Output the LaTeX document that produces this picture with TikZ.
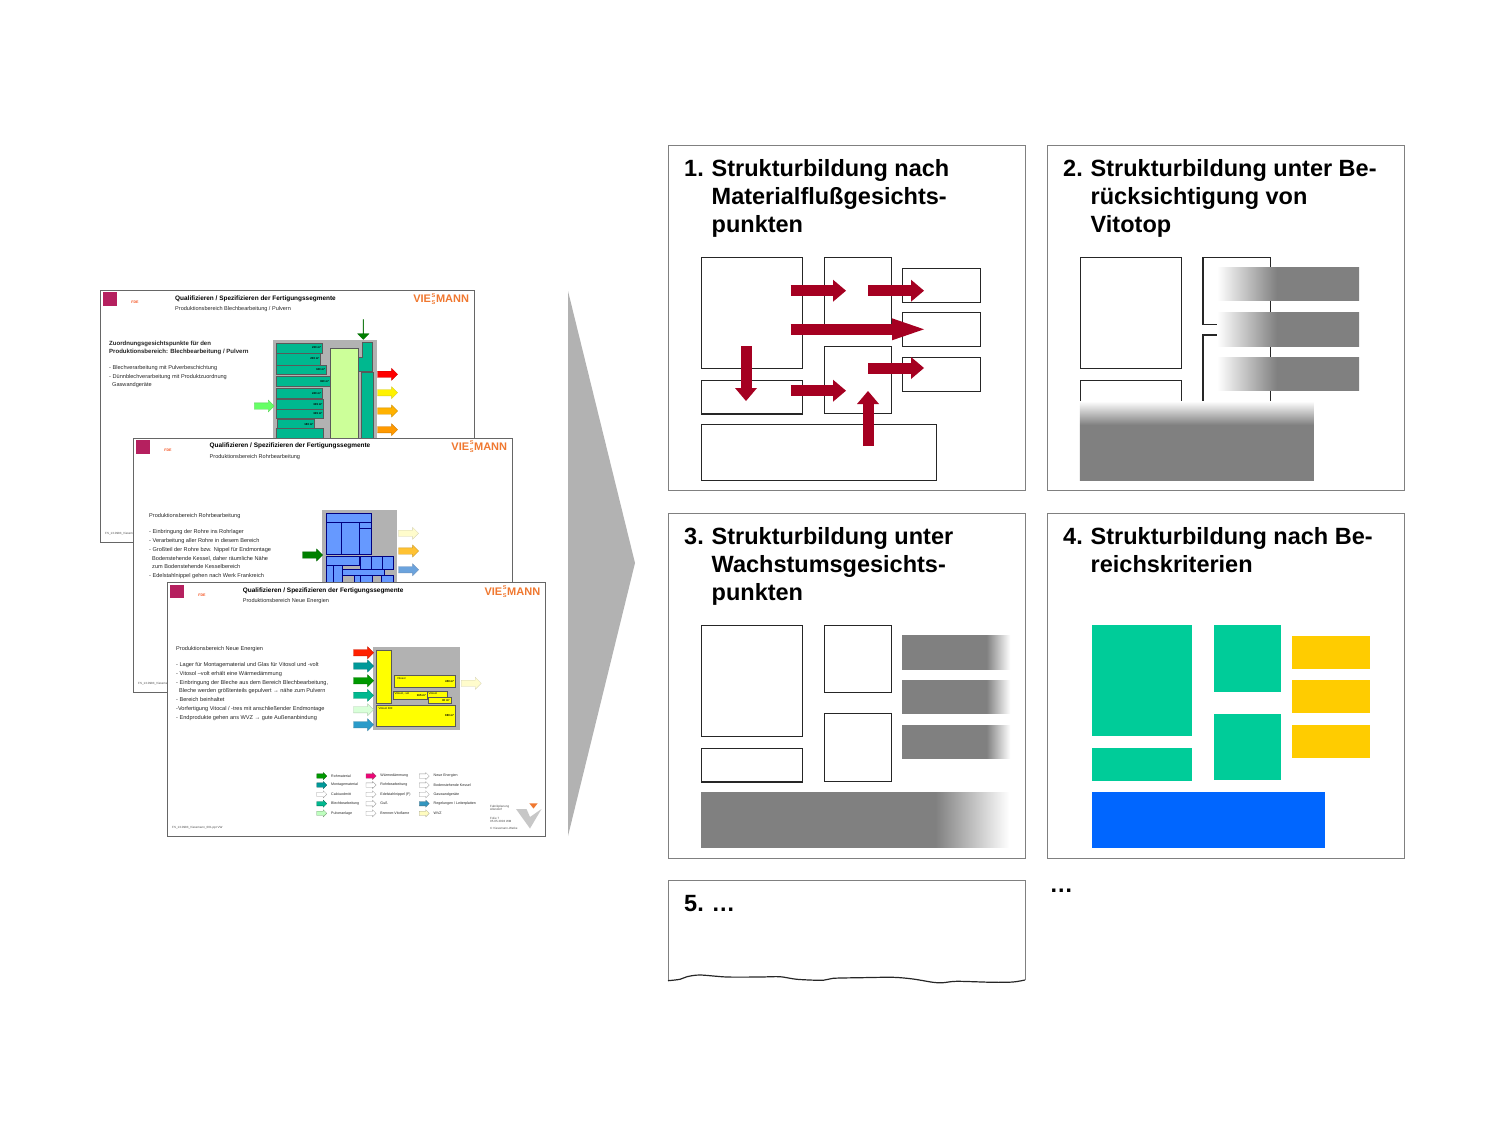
\documentclass[tikz,border=0pt]{standalone}
\usepackage{fontspec}
\setmainfont{Liberation Sans}
\usepackage{xcolor}
\usetikzlibrary{arrows.meta, positioning, shapes.arrows}
\definecolor{framegray}{HTML}{808080}
\definecolor{bargray}{HTML}{808080}
\definecolor{wedgegray}{HTML}{B2B2B2}
\definecolor{flowred}{HTML}{A50021}
\definecolor{zonegreen}{HTML}{00CC99}
\definecolor{zoneyellow}{HTML}{FFCC00}
\definecolor{zoneblue}{HTML}{0066FF}
\definecolor{hallgray}{HTML}{B2B2B2}
\definecolor{seggreen}{HTML}{00B88F}
\definecolor{seglime}{HTML}{CCFF99}
\definecolor{segblue}{HTML}{6699FF}
\definecolor{segyellow}{HTML}{FFFF00}
\definecolor{brandorange}{HTML}{F07830}
\definecolor{brandpink}{HTML}{B5205F}
\pgfdeclarehorizontalshading{fadeleft}{100bp}{color(0bp)=(white); color(25bp)=(white); color(46bp)=(bargray); color(100bp)=(bargray)}
\pgfdeclarehorizontalshading{faderight}{100bp}{color(0bp)=(bargray); color(64bp)=(bargray); color(75bp)=(white); color(100bp)=(white)}
\pgfdeclarehorizontalshading{faderightlong}{100bp}{color(0bp)=(bargray); color(63bp)=(bargray); color(75bp)=(white); color(100bp)=(white)}
\pgfdeclareverticalshading{fadetop}{100bp}{color(0bp)=(bargray); color(60bp)=(bargray); color(75bp)=(white); color(100bp)=(white)}
\tikzset{
  panel/.style={rectangle, draw=framegray, line width=1pt, fill=white, inner sep=0pt, anchor=north west},
  panelno/.style={inner sep=0pt, anchor=north west, font=\fontsize{23.5}{28}\selectfont\bfseries},
  paneltitle/.style={inner sep=0pt, anchor=north west, align=left, font=\fontsize{23.5}{28}\selectfont\bfseries},
  box/.style={rectangle, draw=black!85, line width=1.3pt, inner sep=0pt, anchor=north west},
  flatbox/.style={rectangle, fill=#1, inner sep=0pt, anchor=north west},
  flowarr/.style={-{Triangle[length=#1,width=22pt,line width=0pt]}, line width=11pt, flowred},
  flowarr/.default=13pt,
  slide/.style={rectangle, draw=black!60, line width=.8pt, fill=white, inner sep=0pt, anchor=north west},
  seg/.style={rectangle, draw=black!65, line width=.5pt, fill=#1, inner sep=0pt, anchor=north west},
  segtxt/.style={inner sep=0pt, font=\fontsize{2.8}{3}\selectfont\bfseries},
  flowmark/.style={single arrow, fill=#1, draw=#1!80!black, line width=.3pt, inner sep=0pt, inner ysep=3pt,
                   minimum height=20pt, minimum width=11.5pt, single arrow head extend=2.8pt},
  legmark/.style={single arrow, fill=#1, draw=#1!60!black, line width=.3pt, inner sep=0pt, inner ysep=2pt,
                  minimum height=10pt, minimum width=6.6pt, single arrow head extend=1.3pt},
  slidehd/.style={inner sep=0pt, anchor=west, font=\fontsize{6.45}{7}\selectfont\bfseries},
  slidesub/.style={inner sep=0pt, anchor=west, text=black!85, font=\fontsize{5.55}{7}\selectfont},
  slidetxt/.style={inner sep=0pt, anchor=north west, align=left, text=black!85, font=\fontsize{5.6}{8.75}\selectfont},
  tinytxt/.style={inner sep=0pt, anchor=west, text=black!70, font=\fontsize{3}{4}\selectfont},
  legtxt/.style={inner sep=0pt, anchor=west, text=black!85, font=\fontsize{3.6}{4}\selectfont},
}
\newcommand\viesslogo{VIE\kern.6pt{\fontsize{5.6}{7}\selectfont\raisebox{-1.9pt}{\vbox{\baselineskip=7.6pt\lineskip=0pt\hbox{S}\hbox{S}}}}\kern.6pt MANN}
% name, x, y, width, height, title x, subtitle
\newcommand\slidehead[7]{
  \node[slide, minimum width=#4pt, minimum height=#5pt] (#1) at (#2,#3) {};
  \node[rectangle, fill=brandpink, inner sep=0pt, anchor=north west, minimum width=13.5pt, minimum height=13.5pt] (#1mark) at (#2+3.5,#3+2.2) {};
  \node[inner sep=0pt, anchor=west, text=brandorange!70!red, font=\fontsize{3.6}{4}\selectfont\bfseries] (#1fde) at (#2+31.5,#3+12.6) {FDE};
  \node[slidehd] (#1hd) at (#6,#3+8.5) {Qualifizieren / Spezifizieren der Fertigungssegmente};
  \node[slidesub] (#1sub) at (#6,#3+19) {#7};
  \node[inner sep=0pt, anchor=east, text=brandorange, font=\fontsize{11}{12}\selectfont\bfseries] (#1logo) at (#2+#4-5,#3+9) {\viesslogo};
}
\begin{document}
\begin{tikzpicture}[x=1pt,y=-1pt]
  \useasboundingbox (0,0) rectangle (1500,1125);
  %% slide 1
  \slidehead{sa}{99.7}{290}{374.5}{251.5}{175}{Produktionsbereich Blechbearbeitung / Pulvern}
  \node[slidetxt, font=\fontsize{6.05}{8.2}\selectfont\bfseries] (sahead) at (109,341) {Zuordnungsgesichtspunkte für den\\Produktionsbereich: Blechbearbeitung / Pulvern};
  \node[slidetxt] (salist) at (109,365) {- Blechverarbeitung mit Pulverbeschichtung\\- Dünnblechverarbeitung mit Produktzuordnung\\\hspace*{3pt}Gaswandgeräte};
  \node[tinytxt] (safoot) at (105,533.5) {FS\_13.0983\_Viessmann};
  \node[rectangle, fill=hallgray, inner sep=0pt, anchor=north west, minimum width=104pt, minimum height=101pt] (sahall) at (272.7,339.3) {};
  \foreach \n/\x/\y/\w/\h/\t in {a1/276.3/342.7/45.4/10/230 m²,a2/276.3/352.7/43.7/12/200 m²,a3/276.3/364.7/49.4/9.6/340 m²,
      a4/276.3/376.3/53.4/9.7/360 m²,a5/276.3/387.7/45.4/10.3/240 m²,a6/276.3/399/46.7/9.7/345 m²,a7/276.3/408.7/46.7/9.3/345 m²,
      a8/277.3/419.3/36.7/9/180 m²,a9/276.3/428.3/46.7/11/ }
    {\node[seg=seggreen, minimum width=\w pt, minimum height=\h pt] (\n) at (\x,\y) {};
     \node[segtxt, left=1pt of \n.east] (\n t) {\t};}
  \node[seg=seglime, minimum width=27.7pt, minimum height=91pt] (a10) at (330,348.3) {};
  \draw[line width=.5pt, draw=black!65, fill=seggreen] (362.7,342.7) -- (372.7,342.7) -- (372.7,371.7) -- (358.3,371.7) -- (358.3,357.3) -- (362.7,357.3) -- cycle;
  \node[seg=seggreen, minimum width=12pt, minimum height=68pt] (a12) at (360.7,372.3) {};
  \node[flowmark=black!50!green, shape border rotate=270] (adown) at (363.3,329.3) {};
  \node[flowmark=green!60!white] (ain) at (262.7,406) {};
  \foreach \n/\y/\c in {ared/374.3/red,ayel/392.7/yellow,agold/411/orange!60!yellow,aorg/429.7/orange!80!yellow}
    \node[flowmark=\c] (\n) at (386,\y) {};
  %% slide 2
  \slidehead{sb}{132.7}{437.7}{379.6}{254.5}{209.5}{Produktionsbereich Rohrbearbeitung}
  \node[slidetxt] (sbhead) at (149,513.3) {Produktionsbereich Rohrbearbeitung};
  \node[slidetxt] (sblist) at (149,529.7) {- Einbringung der Rohre ins Rohrlager\\- Verarbeitung aller Rohre in diesem Bereich\\- Großteil der Rohre bzw. Nippel für Endmontage\\\hspace*{3pt}Bodenstehende Kessel,  daher räumliche Nähe\\\hspace*{3pt}zum Bodenstehende Kesselbereich\\- Edelstahlnippel gehen nach Werk Frankreich};
  \node[tinytxt] (sbfoot) at (138,683.5) {FS\_13.0983\_Viessmann};
  \node[rectangle, fill=hallgray, inner sep=0pt, anchor=north west, minimum width=75pt, minimum height=75pt] (sbhall) at (321.7,509.3) {};
  \foreach \n/\x/\y/\w/\h in {b1/326.3/513.3/44.4/9,b2/326.3/522.3/14.4/31.7,b3/340.7/522.3/18.6/31.7,b4/359.3/522.3/11.4/6,b5/359.3/528.3/11.4/25.7,
      b6/325.7/556/33.6/9,b7/360/556/11/13.3,b8/371/556/10.5/13.3,b9/381.5/556/11.2/13.3,b10/325.7/565/7.6/19,b11/333.3/565/9/19,
      b12/342.3/569.3/42/5.7,b13/354.3/575/5.7/9,b14/360/575/11.7/9,b15/381/575/11.7/9}
    \node[seg=segblue, draw=blue!50!black, minimum width=\w pt, minimum height=\h pt] (\n) at (\x,\y) {};
  \node[flowmark=black!50!green] (bin) at (311,555) {};
  \foreach \n/\y/\c in {bpale/533.3/yellow!20!white,borg/551/orange!60!yellow!80!white,bsky/569.7/cyan!60!blue!60!white}
    \node[flowmark=\c] (\n) at (407,\y) {};
  %% slide 3
  \slidehead{sc}{166.7}{582.3}{378.7}{253.7}{242.7}{Produktionsbereich Neue Energien}
  \node[slidetxt] (schead) at (176,646.2) {Produktionsbereich Neue Energien};
  \node[slidetxt] (sclist) at (176,662.4) {- Lager für Montagematerial und Glas für Vitosol und -volt\\- Vitosol –volt erhält eine Wärmedämmung\\- Einbringung der Bleche aus dem Bereich Blechbearbeitung,\\\hspace*{3pt}Bleche werden größtenteils gepulvert → nähe zum Pulvern\\- Bereich beinhaltet\\-Vorfertigung Vitocal / -tres  mit anschließender Endmontage\\- Endprodukte gehen ans WVZ → gute Außenanbindung};
  \node[tinytxt] (scfoot) at (172,828) {FS\_13.0983\_Viessmann\_001.ppt  VW};
  \node[rectangle, fill=hallgray, inner sep=0pt, anchor=north west, minimum width=87pt, minimum height=83.7pt] (schall) at (372.3,646.3) {};
  \foreach \n/\x/\y/\w/\h/\t in {c1/375.7/650/15.6/53.3/ ,c2/394.3/675/61/11.7/450 m²,c3/392.7/690.7/34.3/8.6/165 m²,
      c4/427.3/690.7/20/6.6/ ,c5/428.3/697.3/22.4/6/30 m²,c6/375.7/704.7/79.6/21.3/880 m²}
    {\node[seg=segyellow, minimum width=\w pt, minimum height=\h pt] (\n) at (\x,\y) {};
     \node[segtxt, left=1.5pt of \n.east] (\n t) {\t};}
  \foreach \n/\x/\y/\t in {c2n/397/677.5/Vitosol,c3n/394.5/692.5/{Vitosol, -vol},c4n/428.5/692.5/Vitosol,c6n/378.5/707.5/Vitosol 300}
    \node[segtxt, anchor=north west, font=\fontsize{2.8}{3}\selectfont] (\n) at (\x,\y) {\t};
  \foreach \n/\y/\c in {cred/652.7/red!75!orange,cteal/666/teal!80!cyan,cgreen/680.7/green!60!black,csea/695.3/seggreen,cpale/709.7/green!15!white,ccyan/724.7/cyan!60!teal}
    \node[flowmark=\c] (\n) at (362,\y) {};
  \node[flowmark=yellow!20!white] (cout) at (469.7,683.3) {};
  %% legend of slide 3
  \foreach \n/\x/\y/\c/\t in {l1/320.7/776/green!60!black/Rohmaterial,l2/320.7/785/teal!80!cyan/Montagematerial,l3/320.7/794.3/white/Calciuodmitt,
      l4/320.7/803.7/seggreen/Blechbearbeitung,l5/320.7/813.3/green!25!white/Pulveranlage,
      l6/370/776/magenta!80!red/Wärmedämmung,l7/370/785/white/Rohrbearbeitung,l8/370/794.3/white/Edelstahlnippel (F),
      l9/370/803.7/white/Guß,l10/370/813.3/white/Brenner-Vitoflame,
      l11/423.2/776/white/Neue Energien,l12/423.2/785/white/Bodenstehende Kessel,l13/423.2/794.3/white/Gaswandgeräte,
      l14/423.2/803.7/cyan!50!teal/{Regelungen / Leiterplatten},l15/423.2/813.3/yellow!25!white/WVZ}
    {\node[legmark=\c] (\n) at (\x,\y) {};
     \node[legtxt, right=4pt of \n.east] (\n t) {\t};}
  \node[tinytxt, align=left, font=\fontsize{3}{3.6}\selectfont] (cplan) at (490,808) {Fabrikplanung\\Allendorf};
  \node[tinytxt, align=left, font=\fontsize{3}{3.6}\selectfont] (cfolie) at (490,820) {Folie 7\\05.05.2003 WM};
  \node[tinytxt] (ccopy) at (490,828.3) {© Viessmann-Werke};
  \fill[black!22] (516,809) -- (526.5,809) -- (530,817) -- (541.5,809) -- (530,828.5) -- cycle;
  \fill[brandorange] (529.3,803.3) -- (537.7,803.3) -- (533.5,808.5) -- cycle;
  %% big wedge
  \fill[wedgegray] (568,291) -- (635,563) -- (568,836) -- cycle;
  %% panels
  \foreach \n/\x/\y in {pa/668/145,pb/1047/145,pc/668/513,pd/1047/513}
    \node[panel, minimum width=356.5pt, minimum height=345pt] (\n) at (\x,\y) {};
  \foreach \n/\x/\y/\k/\t in {ta/711.5/159/1./Strukturbildung nach\\Materialflußgesichts-\\punkten,
      tb/1090.5/159/2./Strukturbildung unter Be-\\rücksichtigung von\\Vitotop,
      tc/711.5/527/3./Strukturbildung unter\\Wachstumsgesichts-\\punkten,
      td/1090.5/527/4./Strukturbildung nach Be-\\reichskriterien}
    \node[paneltitle] (\n) at (\x,\y) {\llap{\makebox[27.5pt][l]{\k}}\t};
  %% plain boxes of panels 1 to 3
  \foreach \p/\ox/\oy/\my/\mh in {a/701/257/88.7/67,b/1079.7/257/77.3/78.4,c/701/625/88/67.5}
    \foreach \n/\x/\y/\w/\h in {big/0/0/101/111,top/122.6/0/67.4/66.5,mid/122.6/\my/67.4/\mh,low/0/122.7/101/33.5}
      \node[box, minimum width=\w pt, minimum height=\h pt] (\p\n) at (\ox+\x,\oy+\y) {};
  %% panel 1
  \foreach \n/\y/\h in {ar1/267.7/33.8,ar2/312/34,ar3/357/33.5}
    \node[box, minimum width=78.5pt, minimum height=\h pt] (\n) at (901.5,\y) {};
  \node[box, minimum width=234.5pt, minimum height=56pt] (abot) at (701,424) {};
  \foreach \n/\xa/\ya/\xb/\yb in {f1/790.7/290.7/846/290.7,f2/868/290.7/924/290.7,f3/868/368/924/368,f4/790.7/390.7/846/390.7,f5/746/346/746/401,f6/868/446/868/391}
    {\coordinate (\n s) at (\xa,\ya);
     \coordinate (\n e) at (\xb,\yb);
     \draw[flowarr] (\n s) -- (\n e);}
  \coordinate (f7s) at (790.7,329.3);
  \coordinate (f7e) at (924,329.3);
  \draw[flowarr=32pt] (f7s) -- (f7e);
  %% panel 2
  \foreach \n/\y in {br1/267,br2/312.5,br3/357}
    \node[flatbox=white, shading=fadeleft, minimum width=142pt, minimum height=33.5pt] (\n) at (1217,\y) {};
  \node[flatbox=white, shading=fadetop, minimum width=234pt, minimum height=79pt] (bbot) at (1079.7,401) {};
  %% panel 3
  \foreach \n/\y in {cr1/635.5,cr2/680,cr3/725}
    \node[flatbox=white, shading=faderight, minimum width=108pt, minimum height=33.5pt] (\n) at (902,\y) {};
  \node[flatbox=white, shading=faderightlong, minimum width=308pt, minimum height=55.5pt] (cbot) at (701,792) {};
  %% panel 4
  \foreach \n/\x/\y/\w/\h/\c in {d1/1091.5/625/100/111/zonegreen,d2/1214/625/66.5/66.5/zonegreen,d3/1214/713.5/66.5/66.5/zonegreen,
      d4/1091.5/747.5/100/33/zonegreen,d5/1292/636/77.5/33/zoneyellow,d6/1292/680/77.5/33/zoneyellow,d7/1292/725/77.5/33/zoneyellow,
      d8/1091.5/792/233.5/55.5/zoneblue}
    \node[flatbox=\c, minimum width=\w pt, minimum height=\h pt] (\n) at (\x,\y) {};
  %% panel 5
  \draw[draw=framegray, line width=1pt] (668,980.7) -- (668,880.5) -- (1025,880.5) -- (1025,980);
  \draw[line width=1.2pt, black!85, smooth] plot coordinates {(668,980.7) (680,979.3) (687,976.7) (700,975) (727,977) (760,977) (780,976.7) (797,979.3) (823,980.3) (833,978.3) (860,977.7) (893,977.3) (913,979) (933,982.3) (943,982.7) (957,981.3) (993,982.3) (1013,982) (1025,980)};
  \node[panelno] (pe no) at (684,895) {\makebox[27.5pt][l]{5.}…};
  \node[panelno] (pe more) at (1049.5,889) {…};
\end{tikzpicture}
\end{document}
